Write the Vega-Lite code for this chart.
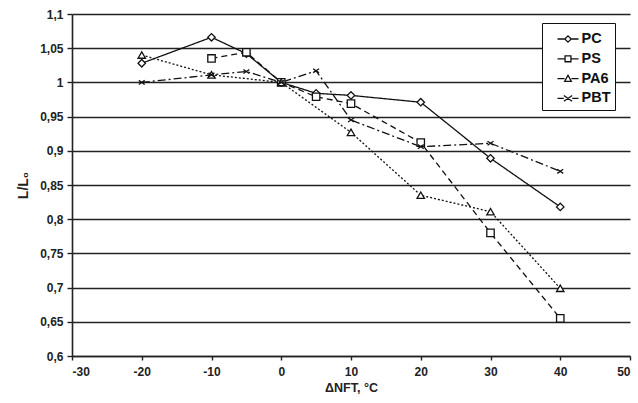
{
  "$schema": "https://vega.github.io/schema/vega-lite/v6.json",
  "width": 558,
  "height": 342,
  "autosize": {"type": "none"},
  "padding": {"left": 72, "top": 14, "right": 8, "bottom": 47},
  "background": "white",
  "data": {"values": [
    {"series": "PC", "x": -20, "y": 1.028},
    {"series": "PC", "x": -10, "y": 1.066},
    {"series": "PC", "x": -5, "y": 1.042},
    {"series": "PC", "x": 0, "y": 1.0},
    {"series": "PC", "x": 5, "y": 0.984},
    {"series": "PC", "x": 10, "y": 0.981},
    {"series": "PC", "x": 20, "y": 0.971},
    {"series": "PC", "x": 30, "y": 0.889},
    {"series": "PC", "x": 40, "y": 0.818},
    {"series": "PS", "x": -10, "y": 1.035},
    {"series": "PS", "x": -5, "y": 1.044},
    {"series": "PS", "x": 0, "y": 1.0},
    {"series": "PS", "x": 5, "y": 0.979},
    {"series": "PS", "x": 10, "y": 0.969},
    {"series": "PS", "x": 20, "y": 0.912},
    {"series": "PS", "x": 30, "y": 0.78},
    {"series": "PS", "x": 40, "y": 0.655},
    {"series": "PA6", "x": -20, "y": 1.04},
    {"series": "PA6", "x": -10, "y": 1.011},
    {"series": "PA6", "x": 0, "y": 1.0},
    {"series": "PA6", "x": 10, "y": 0.927},
    {"series": "PA6", "x": 20, "y": 0.835},
    {"series": "PA6", "x": 30, "y": 0.811},
    {"series": "PA6", "x": 40, "y": 0.699},
    {"series": "PBT", "x": -20, "y": 1.0},
    {"series": "PBT", "x": -10, "y": 1.011},
    {"series": "PBT", "x": -5, "y": 1.016},
    {"series": "PBT", "x": 0, "y": 1.0},
    {"series": "PBT", "x": 5, "y": 1.017},
    {"series": "PBT", "x": 10, "y": 0.945},
    {"series": "PBT", "x": 20, "y": 0.906},
    {"series": "PBT", "x": 30, "y": 0.911},
    {"series": "PBT", "x": 40, "y": 0.87}
  ]},
  "encoding": {
    "x": {
      "field": "x", "type": "quantitative",
      "scale": {"domain": [-30, 50], "nice": false, "zero": false},
      "axis": {
        "title": "ΔNFT, °C",
        "values": [-30, -20, -10, 0, 10, 20, 30, 40, 50],
        "labelExpr": "'' + datum.value",
        "grid": false,
        "domainColor": "#222", "domainWidth": 1.6,
        "tickColor": "#222", "tickWidth": 1.4, "tickSize": 4,
        "labelFont": "Liberation Sans", "labelFontWeight": "bold", "labelFontSize": 12, "labelColor": "#222", "labelPadding": 6,
        "titleFont": "Liberation Sans", "titleFontWeight": "bold", "titleFontSize": 12.5, "titleColor": "#222", "titlePadding": 4
      }
    },
    "y": {
      "field": "y", "type": "quantitative",
      "scale": {"domain": [0.6, 1.1], "nice": false, "zero": false},
      "axis": {
        "title": "L/L₀",
        "values": [0.6, 0.65, 0.7, 0.75, 0.8, 0.85, 0.9, 0.95, 1.0, 1.05, 1.1],
        "labelExpr": "replace(format(datum.value, '.2~f'), '.', ',')",
        "grid": true, "gridColor": "#222", "gridWidth": 1.6, "gridOpacity": 1,
        "domainColor": "#222", "domainWidth": 1.6,
        "tickColor": "#222", "tickWidth": 1.4, "tickSize": 5,
        "labelFont": "Liberation Sans", "labelFontWeight": "bold", "labelFontSize": 12, "labelColor": "#222", "labelPadding": 4,
        "titleFont": "Liberation Sans", "titleFontWeight": "bold", "titleFontSize": 14, "titleColor": "#222", "titlePadding": 9
      }
    }
  },
  "layer": [
    {
      "mark": {"type": "line", "color": "#111", "strokeWidth": 1.3},
      "encoding": {
        "detail": {"field": "series"},
        "strokeDash": {
          "field": "series", "type": "nominal",
          "scale": {"domain": ["PC", "PS", "PA6", "PBT"], "range": [[1, 0], [6, 4], [2, 2], [8, 3, 2, 3]]},
          "legend": null
        }
      }
    },
    {
      "mark": {"type": "point", "filled": false, "fill": "white", "fillOpacity": 1, "stroke": "#111", "strokeWidth": 1.3, "size": 55, "opacity": 1},
      "encoding": {
        "shape": {
          "field": "series", "type": "nominal",
          "scale": {"domain": ["PC", "PS", "PA6", "PBT"], "range": ["diamond", "square", "triangle-up", "M-0.8,-0.55L0.8,0.55M-0.8,0.55L0.8,-0.55"]},
          "legend": null
        }
      }
    },
    {
      "mark": {"type": "point", "filled": false, "stroke": "#111", "strokeWidth": 1.3, "size": 45, "opacity": 0},
      "encoding": {
        "shape": {
          "field": "series", "type": "nominal",
          "scale": {"domain": ["PC", "PS", "PA6", "PBT"], "range": [
            "M-1,0H-0.3M0.3,0H1M0,-0.3L0.3,0L0,0.3L-0.3,0Z",
            "M-1,0H-0.28M0.28,0H1M-0.28,-0.28H0.28V0.28H-0.28Z",
            "M-1,0H-0.32M0.32,0H1M0,-0.32L0.32,0.26H-0.32Z",
            "M-1,0H-0.4M0.4,0H1M-0.4,-0.28L0.4,0.28M-0.4,0.28L0.4,-0.28"
          ]},
          "legend": {
            "title": null,
            "orient": "none",
            "legendX": 470,
            "legendY": 9,
            "fillColor": "white",
            "strokeColor": "#111",
            "padding": 4.5,
            "symbolSize": 441,
            "symbolOpacity": 1,
            "symbolFillColor": "white",
            "symbolStrokeColor": "#111",
            "symbolStrokeWidth": 1.3,
            "symbolOffset": 10,
            "rowPadding": 1.8,
            "labelFont": "Liberation Sans",
            "labelFontWeight": "bold",
            "labelFontSize": 14.5,
            "labelColor": "#111",
            "labelOffset": 2,
            "labelLimit": 200
          }
        }
      }
    }
  ],
  "resolve": {"scale": {"shape": "independent"}},
  "config": {"view": {"stroke": null}}
}
